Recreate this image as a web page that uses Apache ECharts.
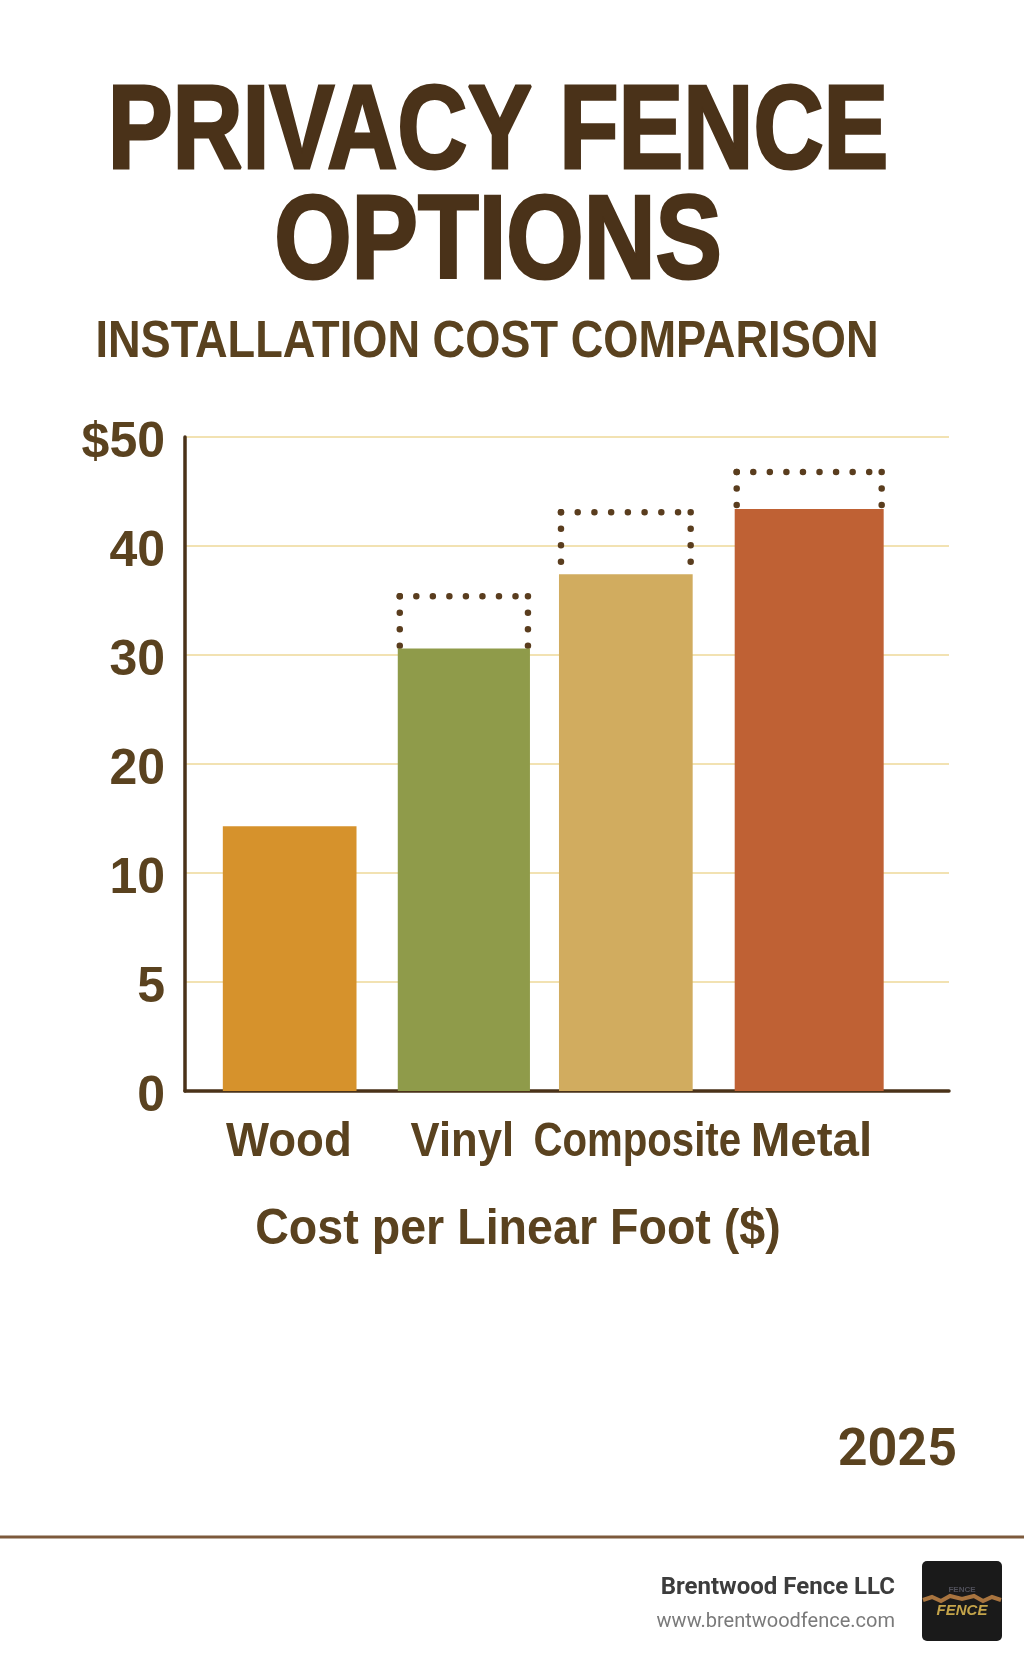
<!DOCTYPE html>
<html lang="en">

<head>
    <meta charset="UTF-8">
    <title>Privacy Fence Options</title>
    <script src="https://cdn.jsdelivr.net/npm/echarts/dist/echarts.min.js"></script>
    <style>
        html, body { margin: 0; padding: 0; background: #fff; }
        #chart { width: 1024px; height: 1666px; }
    </style>
</head>

<body>
    <div id="chart"></div>
    <script>
        const categories = ['Wood', 'Vinyl', 'Composite', 'Metal'];
        const baseCost = [14.3, 30.6, 37.4, 43.4];
        const highCost = [null, 35.4, 43.1, 46.8];   // dotted part on top of the bar
        const tickValues = [0, 5, 10, 20, 30, 40, 50];
        const tickLabels = ['0', '5', '10', '20', '30', '40', '$50'];
        const barColors = ['#d6922c', '#8f9b4a', '#d1ac5f', '#bf6134'];

        // the picture has unequal spacing, x axis runs 0-100 over the plot width
        const barCenters = [13.7, 36.5, 57.7, 81.7];
        const barWidths = [17.5, 17.3, 17.5, 19.5];
        const labelCenters = [13.6, 36.3, 59.2, 82];
        const labelSqueeze = [0.93, 0.89, 0.82, 0.97];

        const DARK = '#4a3219';
        const TEXT = '#5a421f';
        const SANS = '"Liberation Sans", sans-serif';
        const ROBOTO = 'Roboto, sans-serif';

        // y axis is evenly spaced per tick, not linear in dollars
        function toTickPos(v) {
            let i = 0;
            while (i < tickValues.length - 2 && v > tickValues[i + 1]) i++;
            return i + (v - tickValues[i]) / (tickValues[i + 1] - tickValues[i]);
        }

        const seriesData = categories.map((name, i) => ({
            name,
            value: [barCenters[i], barWidths[i], toTickPos(baseCost[i]),
                highCost[i] === null ? toTickPos(baseCost[i]) : toTickPos(highCost[i])]
        }));

        function dottedLine(x1, y1, x2, y2, gap) {
            return {
                type: 'line',
                shape: { x1, y1, x2, y2 },
                style: { stroke: '#5a3d1e', lineWidth: 6.5, lineDash: [0.01, gap], lineCap: 'round' }
            };
        }

        function renderBar(params, api) {
            const cx = api.value(0);
            const w = api.value(1);
            const left = api.coord([cx - w / 2, 0]);
            const right = api.coord([cx + w / 2, 0]);
            const top = api.coord([cx, api.value(2)]);
            const high = api.coord([cx, api.value(3)]);
            const children = [];
            if (api.value(3) > api.value(2)) {
                const width = right[0] - left[0];
                const gap = width / Math.round(width / 16.5);
                children.push(
                    dottedLine(left[0] + 2, high[1], right[0] - 2 + 0.02, high[1], gap),
                    dottedLine(left[0] + 2, high[1], left[0] + 2, top[1], 16.5),
                    dottedLine(right[0] - 2, high[1], right[0] - 2, top[1], 16.5)
                );
            }
            children.push({
                type: 'rect',
                shape: { x: left[0], y: top[1], width: right[0] - left[0], height: left[1] - top[1] },
                style: { fill: barColors[params.dataIndex] }
            });
            return { type: 'group', children };
        }

        // no condensed font is installed, so the wide ones get squeezed
        function label(text, x, y, size, scaleX, align, font, color, weight, heavy) {
            return {
                type: 'text', x, y, scaleX, originX: 0, originY: 0, z: 10,
                style: {
                    text, fill: color, align, verticalAlign: 'middle',
                    font: `${weight || 'bold'} ${size}px ${font}`,
                    stroke: heavy ? color : null,
                    lineWidth: heavy || 0
                }
            };
        }

        const chart = echarts.init(document.getElementById('chart'));

        chart.setOption({
            backgroundColor: '#fff',
            animation: false,
            grid: { left: 185, top: 437, right: 75, bottom: 575 },
            xAxis: {
                type: 'value', min: 0, max: 100,
                splitLine: { show: false },
                axisTick: { show: false },
                axisLabel: { show: false },
                axisLine: { show: true, lineStyle: { color: DARK, width: 3.5 } }
            },
            yAxis: {
                type: 'value', min: 0, max: tickValues.length - 1, interval: 1,
                axisTick: { show: false },
                axisLine: { show: true, lineStyle: { color: DARK, width: 3.5 } },
                splitLine: { show: true, lineStyle: { color: '#f2e2b2', width: 2 } },
                axisLabel: {
                    formatter: v => tickLabels[v],
                    color: TEXT, fontFamily: SANS, fontWeight: 'bold', fontSize: 50, margin: 20,
                    verticalAlign: 'top', padding: [-19, 0, 0, 0]
                }
            },
            series: [{
                type: 'custom',
                renderItem: renderBar,
                encode: { x: 0, y: [2, 3] },
                data: seriesData
            }]
        });

        // category labels sit on the x axis scale
        const baseY = chart.convertToPixel({ yAxisIndex: 0 }, 0);
        const categoryLabels = categories.map((name, i) =>
            label(name, chart.convertToPixel({ xAxisIndex: 0 }, labelCenters[i]), baseY + 51, 49, labelSqueeze[i], 'center', SANS, TEXT));

        chart.setOption({
            graphic: categoryLabels.concat([
                label('PRIVACY FENCE', 498, 135, 118, 0.823, 'center', SANS, DARK, 'bold', 3),
                label('OPTIONS', 498, 245, 118, 0.843, 'center', SANS, DARK, 'bold', 3),
                label('INSTALLATION COST COMPARISON', 487, 343, 51, 0.886, 'center', SANS, TEXT),
                label('Cost per Linear Foot ($)', 518, 1230, 50, 0.932, 'center', SANS, TEXT),
                label('2025', 957, 1452, 52, 1, 'right', ROBOTO, TEXT),
                {
                    type: 'rect', shape: { x: 0, y: 1535.5, width: 1024, height: 3 },
                    style: { fill: '#7d5a3c' }
                },
                label('Brentwood Fence LLC', 895, 1588, 24, 1, 'right', ROBOTO, '#3c3c3c'),
                label('www.brentwoodfence.com', 895, 1622, 20, 1, 'right', ROBOTO, '#7a7a7a', 'normal'),
                {
                    type: 'rect', shape: { x: 922, y: 1561, width: 80, height: 80, r: 5 },
                    style: { fill: '#1a1a1a' }
                },
                {
                    type: 'polyline',
                    shape: { points: [[923, 1600], [932, 1597], [941, 1601], [950, 1596], [962, 1599], [974, 1596], [983, 1601], [992, 1597], [1001, 1600]] },
                    style: { stroke: '#a8743f', lineWidth: 4, fill: 'none' }
                },
                label('FENCE', 962, 1611, 15, 1, 'center', SANS, '#c4a44a', 'italic bold'),
                label('FENCE', 962, 1590, 8, 1, 'center', SANS, '#50505a')
            ])
        });
    </script>
</body>

</html>
